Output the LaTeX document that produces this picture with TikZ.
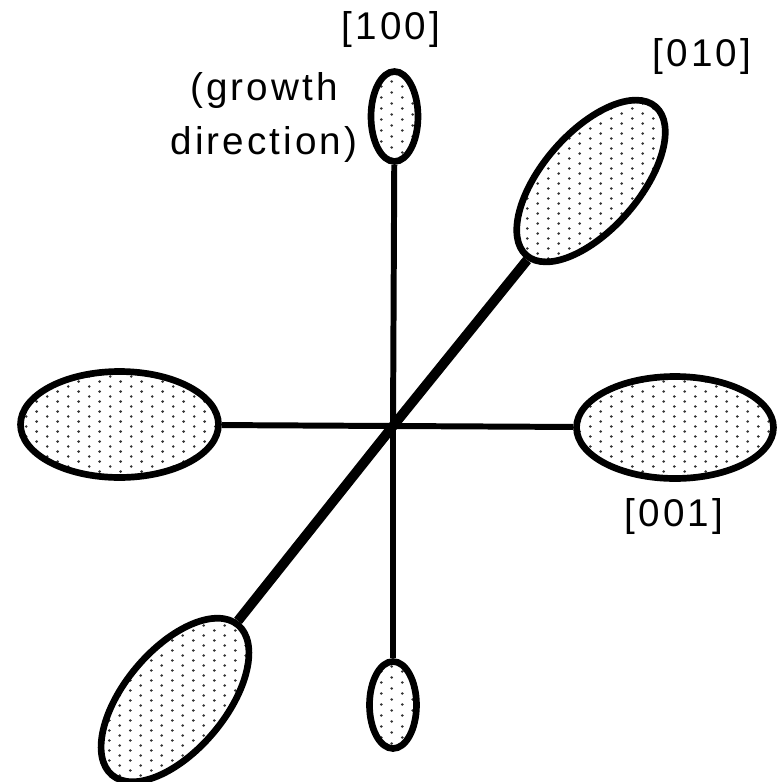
\documentclass[tikz,border=0pt]{standalone}
\usepackage{fontspec}
\setmainfont[LetterSpace=8]{Liberation Sans}
\usetikzlibrary{shapes.geometric, patterns}
\pgfdeclarepatternformonly{stipple}{\pgfqpoint{0pt}{0pt}}{\pgfqpoint{11.9pt}{5.95pt}}{\pgfqpoint{11.9pt}{5.95pt}}{
    \pgfpathcircle{\pgfqpoint{3pt}{1.49pt}}{0.85pt}
    \pgfpathcircle{\pgfqpoint{8.95pt}{4.46pt}}{0.85pt}
    \pgfusepath{fill}
}
\tikzset{
    lobe/.style={draw, ellipse, line width=3.8pt, inner sep=0pt, pattern=stipple, pattern color=black!80},
    thinarm/.style={line width=3.4pt},
    thickarm/.style={line width=5.6pt},
    lbl/.style={font=\fontsize{22}{31}\selectfont, align=center, inner sep=0pt}
}
\begin{document}
\begin{tikzpicture}[x=0.02cm, y=-0.02cm]
\useasboundingbox (0,0) rectangle (782,782);
\coordinate (origin) at (393,426);
% Lobes
\node[lobe, minimum width=0.94cm, minimum height=1.80cm] (top) at (394.5,116.5) {};
\node[lobe, minimum width=0.94cm, minimum height=1.74cm] (bottom) at (393,705) {};
\node[lobe, minimum width=3.94cm, minimum height=2.04cm] (right) at (675,427.5) {};
\node[lobe, minimum width=3.96cm, minimum height=2.12cm] (left) at (119.5,424.5) {};
\node[lobe, minimum width=3.94cm, minimum height=1.94cm, rotate=49] (upper) at (591,181) {};
\node[lobe, minimum width=3.92cm, minimum height=2.02cm, rotate=50] (lower) at (175,700) {};
% Arms
\draw[thinarm] (top) -- (origin);
\draw[thinarm] (bottom) -- (origin);
\draw[thinarm] (left) -- (origin);
\draw[thinarm] (right) -- (origin);
\draw[thickarm] (upper) -- (origin);
\draw[thickarm] (lower) -- (origin);
% Labels
\node[lbl] (topname) at (391,30) {[100]};
\node[lbl] (uppername) at (702,57) {[010]};
\node[lbl] (rightname) at (674,516) {[001]};
\node[lbl] (growth) at (264,117.5) {(growth\\direction)};
\end{tikzpicture}
\end{document}
